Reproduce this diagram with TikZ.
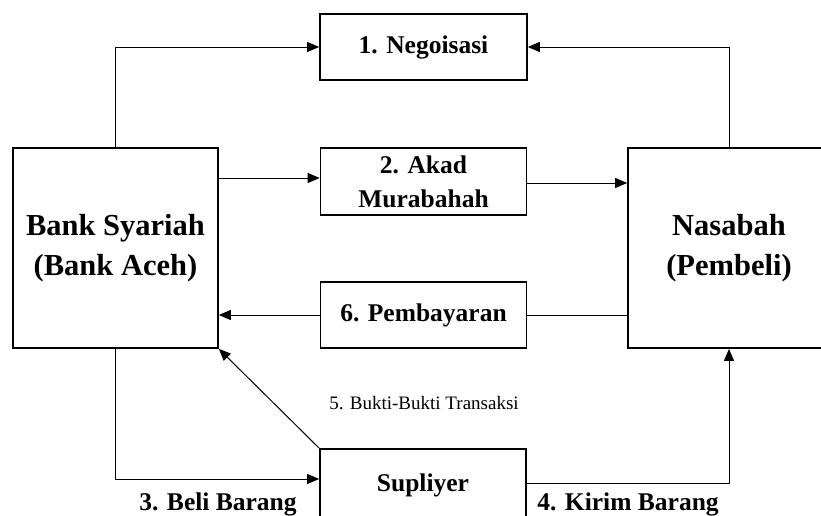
\documentclass[tikz,border=0pt]{standalone}
\usepackage{fontspec}
\setmainfont{Liberation Serif}
\usetikzlibrary{arrows.meta}
\begin{document}
\begin{tikzpicture}[x=1pt,y=-1pt,
  box/.style={draw,line width=1.7pt,rectangle,inner sep=0pt,align=center,font=\bfseries\fontsize{25.5}{34}\selectfont},
  bigbox/.style={box,font=\bfseries\fontsize{30.5}{40}\selectfont},
  conn/.style={line width=1pt},
  arr/.style={conn,-{Triangle[length=12pt,width=10pt]}},
  lbl/.style={font=\bfseries\fontsize{25.5}{30}\selectfont,inner sep=0pt,anchor=base}]
\clip (0,0) rectangle (821,515);
\fill[white] (0,0) rectangle (821,515);
% boxes
\node[bigbox,minimum width=205pt,minimum height=200pt] (bank) at (115.5,248) {Bank Syariah\\(Bank Aceh)};
\node[bigbox,minimum width=202pt,minimum height=200pt] (nas) at (729,248) {Nasabah\\(Pembeli)};
\node[box,minimum width=207pt,minimum height=66pt] (nego) at (423.5,47) {1. Negoisasi};
\node[box,minimum width=206pt,minimum height=67pt] (akad) at (423.5,181.5) {2. Akad\\Murabahah};
\node[box,minimum width=206pt,minimum height=66pt] (pemb) at (423.5,315) {6. Pembayaran};
\node[box,minimum width=206pt,minimum height=72pt] (supl) at (423,485) {Supliyer};
% connectors
\draw[arr] (bank.north) |- (nego.west);
\draw[arr] (nas.north) |- (nego.east);
\draw[arr] (bank.east |- 0,178) -- (akad.west |- 0,178);
\draw[arr] (akad.east |- 0,183) -- (nas.west |- 0,183);
\draw[conn] (nas.west |- pemb.east) -- (pemb.east);
\draw[arr] (pemb.west) -- (bank.east |- pemb.west);
\draw[arr] (supl.north west) -- (bank.south east);
\draw[arr] (bank.south) |- (supl.west |- 0,479);
\draw[arr] (supl.east |- 0,483) -| (nas.south);
% labels
\node[lbl] (l3) at (218,510) {3. Beli Barang};
\node[lbl] (l4) at (628,510) {4. Kirim Barang};
\node[font=\fontsize{19}{22}\selectfont,inner sep=0pt] (l5) at (424,403) {5. Bukti-Bukti Transaksi};
\end{tikzpicture}
\end{document}
